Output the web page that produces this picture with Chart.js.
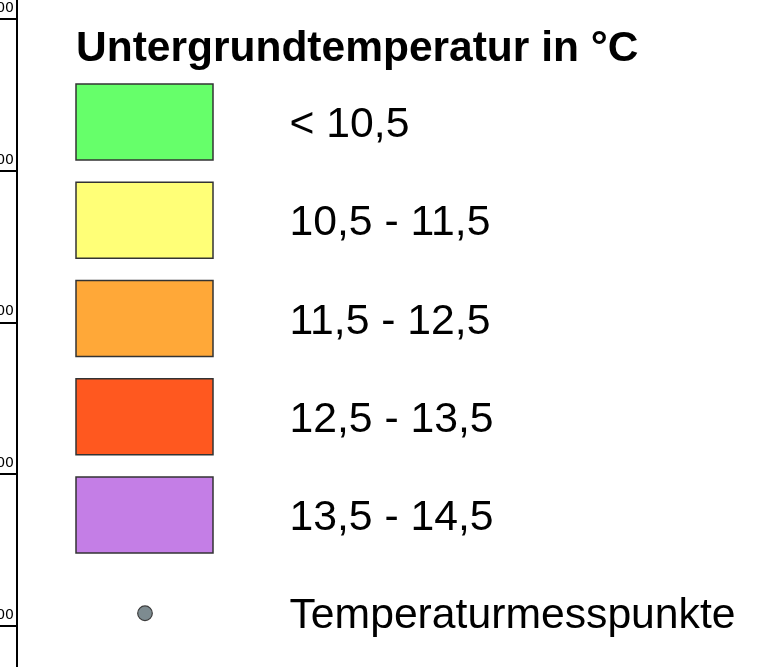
<!DOCTYPE html>
<html>
<head>
<meta charset="utf-8">
<script src="https://cdn.jsdelivr.net/npm/chart.js@4.4.1/dist/chart.umd.min.js"></script>
<style>
    html, body { margin: 0; padding: 0; background: #fff; overflow: hidden; }
    #wrap { position: absolute; left: -100px; top: 0; width: 867px; height: 667px; }
</style>
</head>
<body>
<div id="wrap"><canvas id="legend-Chart"></canvas></div>
<script>
// map frame ticks (northing, only the ends of the labels are visible)
const northingTicks = [5422000, 5421000, 5420000, 5419000, 5418000];

// legend classes
const legendTitle = 'Untergrundtemperatur in °C';
const tempClasses = ['< 10,5', '10,5 - 11,5', '11,5 - 12,5', '12,5 - 13,5', '13,5 - 14,5'];
const classColors = ['#66ff6a', '#ffff77', '#ffa838', '#ff581f', '#c47ee6'];
const pointLabel = 'Temperaturmesspunkte';
const pointColor = '#7d8b90';

// draws the legend block next to the frame
const legendBlock = {
    id: 'legendBlock',
    afterDraw(chart) {
        const ctx = chart.ctx;
        const x0 = chart.chartArea.left;   // frame line
        const boxX = x0 + 59, boxW = 137, boxH = 76, rowH = 98.25, firstTop = 84;
        const textX = x0 + 272.5;

        ctx.save();
        ctx.fillStyle = '#000';
        ctx.textAlign = 'left';
        ctx.textBaseline = 'alphabetic';
        ctx.font = 'bold 42.5px "Liberation Sans", Arial, sans-serif';
        ctx.fillText(legendTitle, x0 + 59, 60.5);

        ctx.font = '42.7px "Liberation Sans", Arial, sans-serif';
        tempClasses.forEach((label, i) => {
            const top = firstTop + i * rowH;
            ctx.fillStyle = classColors[i];
            ctx.fillRect(boxX, top, boxW, boxH);
            ctx.strokeStyle = '#333';
            ctx.lineWidth = 1.5;
            ctx.strokeRect(boxX, top, boxW, boxH);
            ctx.fillStyle = '#000';
            ctx.fillText(label, textX, top + boxH / 2 + 15);
        });

        const cy = firstTop + 5 * rowH + boxH / 2;
        ctx.beginPath();
        ctx.arc(boxX + 69, cy, 7.3, 0, Math.PI * 2);
        ctx.fillStyle = pointColor;
        ctx.fill();
        ctx.strokeStyle = '#3c3c3c';
        ctx.lineWidth = 1.2;
        ctx.stroke();
        ctx.fillStyle = '#000';
        ctx.fillText(pointLabel, textX, cy + 15);
        ctx.restore();
    }
};

function d2c_legendChart(){
    const legendChart = document.getElementById('legend-Chart');
    new Chart(legendChart, {
        type: 'scatter',
        data: {
            datasets: [{
                label: pointLabel,
                data: []
            }]
        },
        options: {
            responsive: true,
            maintainAspectRatio: false,
            animation: false,
            layout: { padding: 0 },
            plugins: {
                legend: { display: false },
                tooltip: { enabled: false }
            },
            scales: {
                x: { display: false, min: 0, max: 1 },
                y: {
                    position: 'left',
                    min: 5417730,
                    max: 5422127,
                    afterBuildTicks: (scale) => {
                        scale.ticks = northingTicks.map(v => ({ value: v }));
                    },
                    afterFit: (scale) => { scale.width = 117; },
                    border: { display: true, color: '#000', width: 2 },
                    grid: {
                        drawOnChartArea: false,
                        drawTicks: true,
                        tickLength: 40,
                        color: '#000',
                        lineWidth: 2
                    },
                    ticks: {
                        color: '#000',
                        padding: -37,
                        labelOffset: -11,
                        font: { family: 'DejaVu Sans', size: 14 },
                        callback: (v) => String(v)
                    }
                }
            }
        },
        plugins: [legendBlock]
    });
}d2c_legendChart();
</script>
</body>
</html>
